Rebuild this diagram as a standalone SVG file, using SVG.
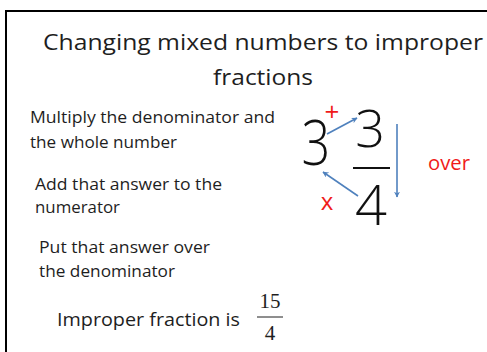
<svg xmlns="http://www.w3.org/2000/svg" width="487" height="352" viewBox="0 0 487 352">
<style>
.t{font-family:"Open Sans","Liberation Sans",sans-serif;fill:#1e1e1e}
.big{font-family:"Open Sans","Liberation Sans",sans-serif;fill:#111;font-weight:300}
.red{font-family:"Open Sans","Liberation Sans",sans-serif;fill:#f01a1a}
.ser{font-family:"Liberation Serif","Times New Roman",serif;fill:#1e1e1e}
.arr{stroke:#4f81bd;stroke-width:1.6;fill:none;marker-end:url(#ah)}
</style>
<defs>
<marker id="ah" viewBox="0 0 10 10" refX="9" refY="5" markerWidth="6" markerHeight="6" orient="auto" markerUnits="userSpaceOnUse">
<path d="M0,0 L10,5 L0,10 L3,5 Z" fill="#4f81bd"/>
</marker>
</defs>
<rect width="487" height="352" fill="#ffffff"/>
<rect x="6" y="11" width="492" height="352" fill="none" stroke="#000" stroke-width="2"/>
<g id="title">
<text class="t" x="43" y="50" font-size="22" textLength="440" lengthAdjust="spacingAndGlyphs">Changing mixed numbers to improper</text>
<text class="t" x="213" y="85" font-size="22" textLength="100" lengthAdjust="spacingAndGlyphs">fractions</text>
</g>
<g id="step1">
<text class="t" x="30" y="123" font-size="15.5" textLength="245" lengthAdjust="spacingAndGlyphs">Multiply the denominator and</text>
<text class="t" x="30" y="148" font-size="15.5" textLength="147" lengthAdjust="spacingAndGlyphs">the whole number</text>
</g>
<g id="step2">
<text class="t" x="35" y="190" font-size="15.5" textLength="187" lengthAdjust="spacingAndGlyphs">Add that answer to the</text>
<text class="t" x="35" y="213" font-size="15.5" textLength="85" lengthAdjust="spacingAndGlyphs">numerator</text>
</g>
<g id="step3">
<text class="t" x="39" y="253" font-size="15.5" textLength="171" lengthAdjust="spacingAndGlyphs">Put that answer over</text>
<text class="t" x="39" y="277" font-size="15.5" textLength="136" lengthAdjust="spacingAndGlyphs">the denominator</text>
</g>
<g id="result">
<text class="t" x="57" y="326" font-size="18" textLength="183" lengthAdjust="spacingAndGlyphs">Improper fraction is</text>
<text class="ser" x="270" y="308" font-size="21" text-anchor="middle">15</text>
<line x1="257" y1="317" x2="283" y2="317" stroke="#1e1e1e" stroke-width="1"/>
<text class="ser" x="270" y="340" font-size="21" text-anchor="middle">4</text>
</g>
<g id="mixed-number">
<text class="big" font-size="63" text-anchor="middle" transform="translate(316,165) scale(0.8,1)">3</text>
<text class="big" x="370" y="147" font-size="52" text-anchor="middle">3</text>
<line x1="353" y1="168" x2="390" y2="168" stroke="#111" stroke-width="1.8"/>
<text class="big" x="371" y="225" font-size="56" text-anchor="middle">4</text>
</g>
<g id="labels">
<text class="red" x="332" y="121" font-size="26" text-anchor="middle">+</text>
<text class="red" x="327" y="210" font-size="24" text-anchor="middle">x</text>
<text class="red" x="428" y="170" font-size="20" textLength="42" lengthAdjust="spacingAndGlyphs">over</text>
</g>
<g id="connectors">
<line class="arr" x1="327" y1="134" x2="357" y2="118"/>
<line class="arr" x1="397" y1="124" x2="397" y2="197"/>
<line class="arr" x1="358" y1="196" x2="323" y2="172"/>
</g>
</svg>
